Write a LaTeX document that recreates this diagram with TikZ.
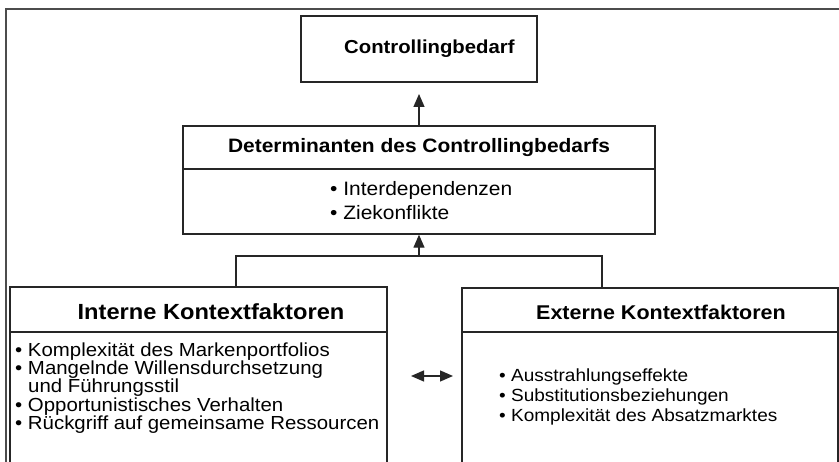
\documentclass[tikz,border=0pt]{standalone}
\usepackage{fontspec}
\setmainfont[FakeStretch=1.08]{Liberation Sans}
\usetikzlibrary{arrows.meta}
\begin{document}
\begin{tikzpicture}[x=1pt,y=-1pt,
  box/.style={draw=black!85, line width=1.4pt, rectangle, inner sep=0pt},
  head/.style={font=\fontsize{#1}{#1}\selectfont\bfseries, inner sep=0pt},
  item/.style={font=\fontsize{#1}{#1}\selectfont, inner sep=0pt, anchor=west},
  conn/.style={draw=black!85, line width=1.3pt},
  tip/.style={-{Triangle[length=13pt,width=11pt]}},
  dtip/.style={{Triangle[length=13pt,width=11pt]}-{Triangle[length=13pt,width=11pt]}}]
\useasboundingbox (0,0) rectangle (839,462);
\fill[white] (0,0) rectangle (839,462);
% outer frame (open at right and bottom)
\draw[line width=1.1pt, black!70] (6,470) -- (6,9) -- (845,9);

% boxes
\node[box, minimum width=236pt, minimum height=66pt] (cb) at (419,49) {};
\node[box, minimum width=472pt, minimum height=108pt] (det) at (419,180) {};
\node[box, minimum width=377pt, minimum height=183pt] (int) at (198.5,378.5) {};
\node[box, minimum width=376pt, minimum height=182pt] (ext) at (650,379) {};

% separators
\draw[conn] (183,169) -- (655,169);
\draw[conn] (10,332) -- (387,332);
\draw[conn] (462,332) -- (838,332);

% texts
\node[head=18.8, anchor=west] (tcb) at (344,49) {Controllingbedarf};
\node[head=19.4] (tdet) at (419,148) {Determinanten des Controllingbedarfs};
\node[item=19.4] (d1) at (330,190) {• Interdependenzen};
\node[item=19.4] (d2) at (330,213) {• Ziekonflikte};

\node[head=21.9] (tint) at (211,312) {Interne Kontextfaktoren};
\node[item=18.9] (i1) at (15,352) {• Komplexität des Markenportfolios};
\node[item=18.9] (i2) at (15,370) {• Mangelnde Willensdurchsetzung};
\node[item=18.9] (i3) at (28,388) {und Führungsstil};
\node[item=18.9] (i4) at (15,407) {• Opportunistisches Verhalten};
\node[item=18.9] (i5) at (15,425) {• Rückgriff auf gemeinsame Ressourcen};

\node[head=19.9] (text) at (661,312) {Externe Kontextfaktoren};
\node[item=17.6] (e1) at (499,377) {• Ausstrahlungseffekte};
\node[item=17.6] (e2) at (499,397) {• Substitutionsbeziehungen};
\node[item=17.6] (e3) at (499,417) {• Komplexität des Absatzmarktes};

% connectors
\coordinate (cbin) at (419,94);
\draw[conn, tip] (det.north) -- (cbin);

\coordinate (junc) at (419,256);
\draw[conn] (int.north -| 236,0) |- (junc) -| (ext.north -| 602,0);
\draw[conn, tip] (junc) -- (det.south);

\coordinate (dl) at (411,376);
\coordinate (dr) at (453,376);
\draw[conn, dtip] (dl) -- (dr);
\end{tikzpicture}
\end{document}
